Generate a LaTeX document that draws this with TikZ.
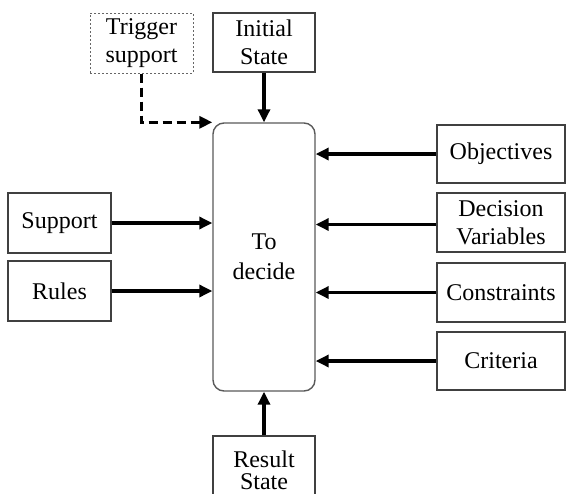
\documentclass[tikz,border=0pt]{standalone}
\usepackage{fontspec}
\setmainfont{Liberation Serif}
\usetikzlibrary{arrows.meta}
\tikzset{
  box/.style={draw=black!75, line width=1.1pt, align=center, inner sep=0pt,
    font=\fontsize{24}{28}\selectfont},
  flow/.style={line width=3.2pt, -{Triangle[length=13pt,width=12pt]}},
}
\begin{document}
\begin{tikzpicture}[x=1pt,y=-1pt]
  \useasboundingbox (0,0) rectangle (567,493);
  % centre
  \node[box, draw=black!65, line width=1.4pt, rounded corners=11pt,
    minimum width=102pt, minimum height=268pt] (decide) at (264,257) {To\\[2pt]decide};
  % top
  \node[box, minimum width=102pt, minimum height=59pt] (init) at (264,42.5) {Initial\\State};
  \node[box, draw=black!60, line width=1pt, dash pattern=on 2pt off 2pt,
    minimum width=103pt, minimum height=60pt] (trig) at (141.5,43) {Trigger\\support};
  % left
  \node[box, minimum width=103pt, minimum height=60pt] (sup) at (59.5,223) {Support};
  \node[box, minimum width=103pt, minimum height=60pt] (rul) at (59.5,291) {Rules};
  % right
  \node[box, minimum width=128pt, minimum height=58pt] (obj) at (501,154) {Objectives};
  \node[box, minimum width=128pt, minimum height=59pt] (dv) at (501,222.5) {Decision\\Variables};
  \node[box, minimum width=128pt, minimum height=59pt] (cons) at (501,292.5) {Constraints};
  \node[box, minimum width=128pt, minimum height=58pt] (crit) at (501,361) {Criteria};
  % bottom
  \node[box, minimum width=102pt, minimum height=68pt] (res) at (264,470) {Result\\[-6pt]State};

  \draw[flow] (init.south) -- (decide.north);
  \draw[flow] (res.north) -- (decide.south);
  \draw[flow, dash pattern=on 9pt off 5pt] (trig.south) |- (decide.north west);
  \draw[flow] (sup.east) -- (sup.east -| decide.west);
  \draw[flow] (rul.east) -- (rul.east -| decide.west);
  \draw[flow] (obj.west) -- (obj.west -| decide.east);
  \draw[flow] ([yshift=-2pt]dv.west) -- ([yshift=-2pt]dv.west -| decide.east);
  \draw[flow] (cons.west) -- (cons.west -| decide.east);
  \draw[flow] (crit.west) -- (crit.west -| decide.east);
\end{tikzpicture}
\end{document}
